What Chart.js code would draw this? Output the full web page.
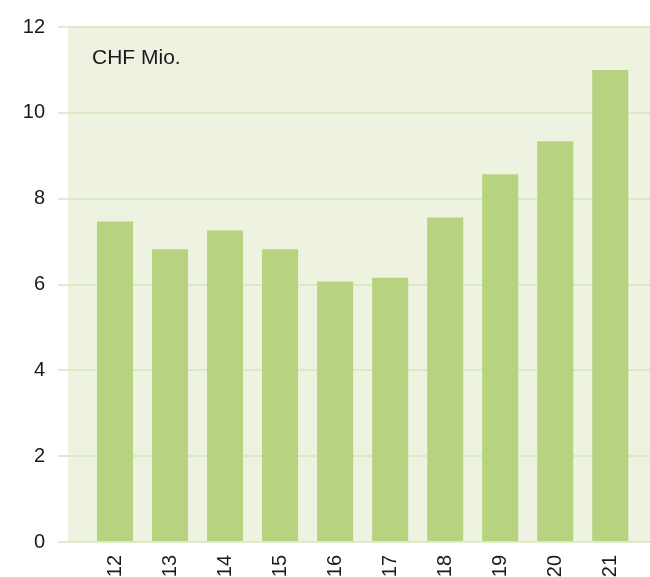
<!DOCTYPE html>
<html>
<head>
<meta charset="utf-8">
<script src="https://cdn.jsdelivr.net/npm/chart.js@4.4.1/dist/chart.umd.min.js"></script>
<style>
  html, body { margin: 0; padding: 0; background: #fff; }
</style>
</head>
<body>
<canvas id="chart" width="650" height="577"></canvas>
<script>
// data
const categories = ['12', '13', '14', '15', '16', '17', '18', '19', '20', '21'];
const values = [7.47, 6.82, 7.26, 6.82, 6.07, 6.16, 7.56, 8.57, 9.34, 11.0];
const yTicks = [0, 2, 4, 6, 8, 10, 12];
const unitLabel = 'CHF Mio.';

const FONT = '"Liberation Sans", Arial, Helvetica, sans-serif';

// light green panel behind the plot
const panelBg = {
  id: 'panelBg',
  beforeDraw(chart) {
    const { ctx, chartArea } = chart;
    ctx.save();
    ctx.fillStyle = '#eef2e1';
    ctx.fillRect(chartArea.left, chartArea.top, chartArea.right - chartArea.left, chartArea.bottom - chartArea.top);
    ctx.restore();
  },
};

// "CHF Mio." inside the plot, top left
const unitText = {
  id: 'unitText',
  afterDraw(chart) {
    const { ctx, chartArea } = chart;
    ctx.save();
    ctx.font = '21px ' + FONT;
    ctx.fillStyle = '#1a1a1a';
    ctx.textAlign = 'left';
    ctx.textBaseline = 'alphabetic';
    ctx.fillText(unitLabel, chartArea.left + 24, chartArea.top + 37);
    ctx.restore();
  },
};

new Chart(document.getElementById('chart'), {
  type: 'bar',
  data: {
    datasets: [{
      data: values.map((v, i) => ({ x: i, y: v })),
      backgroundColor: '#b8d380',
      borderWidth: 0,
      categoryPercentage: 1,
      barPercentage: 0.655,
    }],
  },
  options: {
    responsive: false,
    animation: false,
    events: [],
    layout: { padding: { top: 27, right: 0, left: 0, bottom: 0 } },
    plugins: {
      legend: { display: false },
      tooltip: { enabled: false },
    },
    scales: {
      x: {
        type: 'linear',
        offset: false,
        min: -0.854,
        max: 9.722,
        grid: { display: false, drawTicks: false },
        border: { display: false },
        ticks: {
          stepSize: 1,
          includeBounds: false,
          autoSkip: false,
          minRotation: 90,
          maxRotation: 90,
          padding: 13,
          color: '#1a1a1a',
          font: { family: FONT, size: 20 },
          callback: (v) => (categories[v] !== undefined ? categories[v] : ''),
        },
        afterFit(scale) { scale.height = 35; },
      },
      y: {
        min: yTicks[0],
        max: yTicks[yTicks.length - 1],
        z: 1,
        grid: {
          color: 'rgba(214, 229, 185, 0.72)',
          lineWidth: 2,
          tickLength: 10,
        },
        border: { display: false },
        afterBuildTicks(scale) { scale.ticks = yTicks.map((v) => ({ value: v })); },
        ticks: {
          padding: 13,
          color: '#1a1a1a',
          font: { family: FONT, size: 20 },
        },
        afterFit(scale) { scale.width = 68; },
      },
    },
  },
  plugins: [panelBg, unitText],
});
</script>
</body>
</html>
